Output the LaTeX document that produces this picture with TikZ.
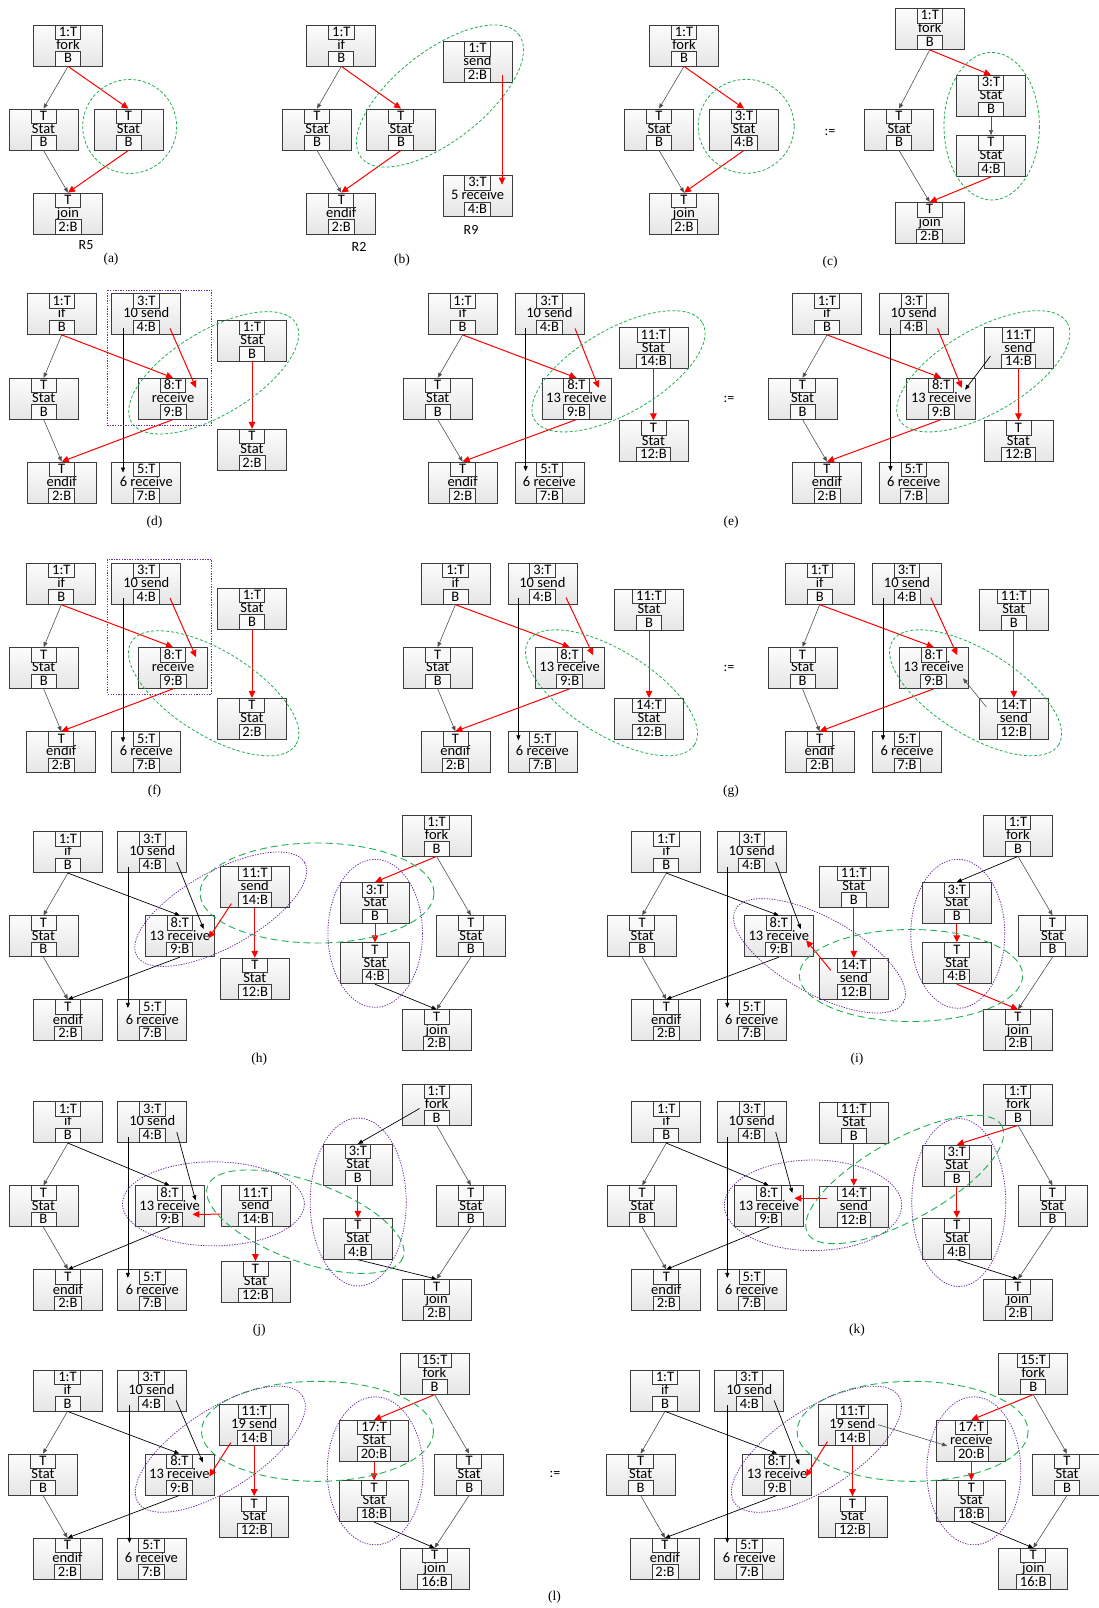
\documentclass[tikz,border=0pt]{standalone}
\usepackage{fontspec}
\setmainfont{Liberation Serif}
\newfontfamily\calfont{Carlito}
\usepackage{tikz}
\usetikzlibrary{arrows.meta,calc}
\definecolor{boxline}{RGB}{60,60,60}
\definecolor{arrgray}{RGB}{80,80,80}
\definecolor{dgreen}{RGB}{30,175,80}
\definecolor{dpurple}{RGB}{112,48,160}
\tikzset{
  blk/.style={draw=boxline,line width=0.75pt,top color=gray!2,bottom color=gray!20,
    minimum width=69pt,minimum height=41pt,inner sep=0pt,text height=10pt,text depth=2.5pt,
    font=\calfont\fontsize{14.5}{15}\selectfont},
  lbl/.style={draw=boxline,line width=0.75pt,fill=gray!4,minimum width=25pt,minimum height=14.5pt,
    inner xsep=3.5pt,inner ysep=0pt,text height=10pt,text depth=1.5pt,
    font=\calfont\fontsize{14.5}{15}\selectfont},
  garr/.style={draw=arrgray,line width=0.6pt,-{Triangle[length=5pt,width=4pt]}},
  barr/.style={draw=black,line width=0.7pt,-{Triangle[length=5pt,width=4pt]}},
  rarr/.style={draw=red,line width=1pt,-{Triangle[length=7pt,width=6.5pt]}},
  grn/.style={draw=dgreen,line width=0.8pt,dash pattern=on 3pt off 2pt},
  grnl/.style={draw=dgreen,line width=0.9pt,dash pattern=on 7pt off 4pt},
  pur/.style={draw=dpurple,line width=0.8pt,dash pattern=on 1.3pt off 1.3pt},
  capt/.style={font=\fontsize{13.5}{14}\selectfont},
  rlab/.style={font=\calfont\fontsize{14}{14}\selectfont}
}
% box with a top and a bottom port label
\newcommand{\cfg}[5]{%
  \node[blk] (#1) at (#2) {#4};
  \node[lbl,anchor=north] (#1-t) at (#1.north) {#3};
  \node[lbl,anchor=south] (#1-b) at (#1.south) {#5};}

\begin{document}
\begin{tikzpicture}[x=1pt,y=-1pt]
  \useasboundingbox (0,0) rectangle (1099,1608);

  % (a)
  \cfg{a-fk}{68,45.5}{1:T}{fork}{B}
  \cfg{a-s1}{43.5,129.5}{T}{Stat}{B}
  \cfg{a-s2}{128.5,129.5}{T}{Stat}{B}
  \cfg{a-jn}{68,213.5}{T}{join}{2:B}
  \draw[garr] (a-fk-b.south) -- (a-s1-t.north);
  \draw[rarr] (a-fk-b.south) -- (a-s2-t.north);
  \draw[garr] (a-s1-b.south) -- (a-jn-t.north);
  \draw[rarr] (a-s2-b.south) -- (a-jn-t.north);
  \draw[grn] (129.7,126.5) ellipse[x radius=47,y radius=47];
  \node[rlab] (r5) at (86,245) {R5};
  \node[capt] (capa) at (111,259) {(a)};

  % (b)
  \cfg{b-if}{341.3,45.5}{1:T}{if}{B}
  \cfg{b-s1}{317,129.5}{T}{Stat}{B}
  \cfg{b-s2}{401,129.5}{T}{Stat}{B}
  \cfg{b-ei}{341.3,213.5}{T}{endif}{2:B}
  \cfg{b-sd}{477.5,62}{1:T}{send}{2:B}
  \cfg{b-rv}{477.5,196}{3:T}{5 receive}{4:B}
  \draw[garr] (b-if-b.south) -- (b-s1-t.north);
  \draw[rarr] (b-if-b.south) -- (b-s2-t.north);
  \draw[garr] (b-s1-b.south) -- (b-ei-t.north);
  \draw[rarr] (b-s2-b.south) -- (b-ei-t.north);
  \draw[rarr] ($(b-sd.south)+(24.5,-7.5)$) -- ($(b-rv.north)+(24.5,9.5)$);
  \draw[grn,rotate around={38:(440,96)}] (440,96) ellipse[x radius=100,y radius=45];
  \node[rlab] (r2) at (359,247) {R2};
  \node[rlab] (r9) at (471,230) {R9};
  \node[capt] (capb) at (402,260) {(b)};

  % (c)
  \cfg{cl-fk}{684,45.5}{1:T}{fork}{B}
  \cfg{cl-s1}{659,129.5}{T}{Stat}{B}
  \cfg{cl-s2}{744,129.5}{3:T}{Stat}{4:B}
  \cfg{cl-jn}{684,213.5}{T}{join}{2:B}
  \draw[garr] (cl-fk-b.south) -- (cl-s1-t.north);
  \draw[rarr] (cl-fk-b.south) -- (cl-s2-t.north);
  \draw[garr] (cl-s1-b.south) -- (cl-jn-t.north);
  \draw[rarr] (cl-s2-b.south) -- (cl-jn-t.north);
  \draw[grn] (746.2,126.3) ellipse[x radius=48,y radius=47];
  \node[rlab] (defc) at (830,132) {:=};
  \cfg{cr-fk}{929.7,29}{1:T}{fork}{B}
  \cfg{cr-s1}{899,129.5}{T}{Stat}{B}
  \cfg{cr-s2}{991,96}{3:T}{Stat}{B}
  \cfg{cr-s3}{991,156}{T}{Stat}{4:B}
  \cfg{cr-jn}{929.7,223}{T}{join}{2:B}
  \draw[garr] (cr-fk-b.south) -- (cr-s1-t.north);
  \draw[rarr] (cr-fk-b.south) -- (cr-s2-t.north);
  \draw[garr] (cr-s2-b.south) -- (cr-s3-t.north);
  \draw[garr] (cr-s1-b.south) -- (cr-jn-t.north);
  \draw[rarr] (cr-s3-b.south) -- (cr-jn-t.north);
  \draw[grn] (991.7,126.2) ellipse[x radius=47.7,y radius=73.8];
  \node[capt] (capc) at (830,262) {(c)};

  % (d)
  \cfg{d-if}{61.7,314}{1:T}{if}{B}
  \cfg{d-st}{43.7,398.7}{T}{Stat}{B}
  \cfg{d-ei}{61.7,482.5}{T}{endif}{2:B}
  \cfg{d-sd}{146.3,314}{3:T}{10 send}{4:B}
  \cfg{d-r6}{146.3,482.5}{5:T}{6 receive}{7:B}
  \cfg{d-rv}{173,398.7}{8:T}{receive}{9:B}
  \cfg{d-s1}{252,340.5}{1:T}{Stat}{B}
  \cfg{d-s2}{252,449.7}{T}{Stat}{2:B}
  \draw[garr] (d-if-b.south) -- (d-st-t.north);
  \draw[rarr] (d-if-b.south) -- (d-rv-t.north);
  \draw[barr] ($(d-sd.south)+(-23.3,-6.5)$) -- ($(d-r6.north)+(-23.3,11)$);
  \draw[rarr] ($(d-sd.south)+(23.7,-6.5)$) -- ($(d-rv.north)+(23,10)$);
  \draw[rarr] (d-rv-b.south) -- (d-ei-t.north);
  \draw[garr] (d-st-b.south) -- (d-ei-t.north);
  \draw[rarr] (d-s1-b.south) -- (d-s2-t.north);
  \draw[pur] (107.7,290) rectangle (211.7,425.7);
  \draw[grn,rotate around={31:(213.7,372.8)}] (213.7,372.8) ellipse[x radius=96,y radius=42];
  \node[capt] (capd) at (154.5,522) {(d)};

  % (e)
  \cfg{el-if}{462.6,314}{1:T}{if}{B}
  \cfg{el-st}{437.7,398.7}{T}{Stat}{B}
  \cfg{el-ei}{462.6,482.5}{T}{endif}{2:B}
  \cfg{el-sd}{549.4,314}{3:T}{10 send}{4:B}
  \cfg{el-r6}{549.4,482.5}{5:T}{6 receive}{7:B}
  \cfg{el-rv}{576.4,398.7}{8:T}{13 receive}{9:B}
  \cfg{el-s1}{653.4,348.3}{11:T}{Stat}{14:B}
  \cfg{el-s2}{653.4,441.3}{T}{Stat}{12:B}
  \draw[garr] (el-if-b.south) -- (el-st-t.north);
  \draw[rarr] (el-if-b.south) -- (el-rv-t.north);
  \draw[barr] ($(el-sd.south)+(-23.8,-6.5)$) -- ($(el-r6.north)+(-23.8,9.5)$);
  \draw[rarr] ($(el-sd.south)+(25.6,-6.5)$) -- ($(el-rv.north)+(22.3,10)$);
  \draw[rarr] (el-rv-b.south) -- (el-ei-t.north);
  \draw[garr] (el-st-b.south) -- (el-ei-t.north);
  \draw[rarr] (el-s1-b.south) -- (el-s2-t.north);
  \draw[grn,rotate around={30:(618.5,371.3)}] (618.5,371.3) ellipse[x radius=97,y radius=42];
  \node[rlab] (defe) at (729,399) {:=};
  \cfg{er-if}{827,314}{1:T}{if}{B}
  \cfg{er-st}{802.5,398.7}{T}{Stat}{B}
  \cfg{er-ei}{827,482.5}{T}{endif}{2:B}
  \cfg{er-sd}{913.7,314}{3:T}{10 send}{4:B}
  \cfg{er-r6}{913.7,482.5}{5:T}{6 receive}{7:B}
  \cfg{er-rv}{941.2,398.7}{8:T}{13 receive}{9:B}
  \cfg{er-s1}{1018.4,348.3}{11:T}{send}{14:B}
  \cfg{er-s2}{1018.4,441.3}{T}{Stat}{12:B}
  \draw[garr] (er-if-b.south) -- (er-st-t.north);
  \draw[rarr] (er-if-b.south) -- (er-rv-t.north);
  \draw[barr] ($(er-sd.south)+(-23.2,-6.5)$) -- ($(er-r6.north)+(-23.2,9.5)$);
  \draw[rarr] ($(er-sd.south)+(23.8,-6.5)$) -- ($(er-rv.north)+(20.5,10)$);
  \draw[rarr] (er-rv-b.south) -- (er-ei-t.north);
  \draw[garr] (er-st-b.south) -- (er-ei-t.north);
  \draw[rarr] (er-s1-b.south) -- (er-s2-t.north);
  \draw[barr] ($(er-s1.south)+(-28,-13)$) -- ($(er-rv.east)+(-11,-9)$);
  \draw[grn,rotate around={30:(983.3,371.3)}] (983.3,371.3) ellipse[x radius=97,y radius=42];
  \node[capt] (cape) at (731,522) {(e)};

  % (f)
  \cfg{f-if}{61.3,583.8}{1:T}{if}{B}
  \cfg{f-st}{43.7,668}{T}{Stat}{B}
  \cfg{f-ei}{61.3,752.2}{T}{endif}{2:B}
  \cfg{f-sd}{146.3,583.8}{3:T}{10 send}{4:B}
  \cfg{f-r6}{146.3,752.2}{5:T}{6 receive}{7:B}
  \cfg{f-rv}{173,668}{8:T}{receive}{9:B}
  \cfg{f-s1}{252,608.8}{1:T}{Stat}{B}
  \cfg{f-s2}{252,718.8}{T}{Stat}{2:B}
  \draw[garr] (f-if-b.south) -- (f-st-t.north);
  \draw[rarr] (f-if-b.south) -- (f-rv-t.north);
  \draw[barr] ($(f-sd.south)+(-23.3,-6.5)$) -- ($(f-r6.north)+(-23.3,11)$);
  \draw[rarr] ($(f-sd.south)+(23.7,-6.5)$) -- ($(f-rv.north)+(23,10)$);
  \draw[rarr] (f-rv-b.south) -- (f-ei-t.north);
  \draw[garr] (f-st-b.south) -- (f-ei-t.north);
  \draw[rarr] (f-s1-b.south) -- (f-s2-t.north);
  \draw[pur] (107.7,559.3) rectangle (211.7,694.3);
  \draw[grn,rotate around={-32:(213.7,693.3)}] (213.7,693.3) ellipse[x radius=97,y radius=42];
  \node[capt] (capf) at (154.5,791) {(f)};

  % (g)
  \cfg{gl-if}{455.4,583.8}{1:T}{if}{B}
  \cfg{gl-st}{437.7,668}{T}{Stat}{B}
  \cfg{gl-ei}{455.4,752.2}{T}{endif}{2:B}
  \cfg{gl-sd}{542.4,583.8}{3:T}{10 send}{4:B}
  \cfg{gl-r6}{542.4,752.2}{5:T}{6 receive}{7:B}
  \cfg{gl-rv}{569.6,668}{8:T}{13 receive}{9:B}
  \cfg{gl-s1}{649,609.7}{11:T}{Stat}{B}
  \cfg{gl-s2}{649,718.8}{14:T}{Stat}{12:B}
  \draw[garr] (gl-if-b.south) -- (gl-st-t.north);
  \draw[rarr] (gl-if-b.south) -- (gl-rv-t.north);
  \draw[barr] ($(gl-sd.south)+(-24,-7)$) -- ($(gl-r6.north)+(-24,9)$);
  \draw[rarr] ($(gl-sd.south)+(23.7,-7)$) -- ($(gl-rv.north)+(23.5,8)$);
  \draw[rarr] (gl-rv-b.south) -- (gl-ei-t.north);
  \draw[garr] (gl-st-b.south) -- (gl-ei-t.north);
  \draw[rarr] (gl-s1-b.south) -- (gl-s2-t.north);
  \draw[grn,rotate around={-32:(611.5,692.8)}] (611.5,692.8) ellipse[x radius=98,y radius=42];
  \node[rlab] (defg) at (729,668.5) {:=};
  \cfg{gr-if}{819.7,583.8}{1:T}{if}{B}
  \cfg{gr-st}{802.5,668}{T}{Stat}{B}
  \cfg{gr-ei}{819.7,752.2}{T}{endif}{2:B}
  \cfg{gr-sd}{907,583.8}{3:T}{10 send}{4:B}
  \cfg{gr-r6}{907,752.2}{5:T}{6 receive}{7:B}
  \cfg{gr-rv}{933.7,668}{8:T}{13 receive}{9:B}
  \cfg{gr-s1}{1013.8,609.7}{11:T}{Stat}{B}
  \cfg{gr-s2}{1013.8,718.8}{14:T}{send}{12:B}
  \draw[garr] (gr-if-b.south) -- (gr-st-t.north);
  \draw[rarr] (gr-if-b.south) -- (gr-rv-t.north);
  \draw[barr] ($(gr-sd.south)+(-24,-7)$) -- ($(gr-r6.north)+(-24,9)$);
  \draw[rarr] ($(gr-sd.south)+(23.7,-7)$) -- ($(gr-rv.north)+(23.5,8)$);
  \draw[rarr] (gr-rv-b.south) -- (gr-ei-t.north);
  \draw[garr] (gr-st-b.south) -- (gr-ei-t.north);
  \draw[rarr] (gr-s1-b.south) -- (gr-s2-t.north);
  \draw[garr] ($(gr-s2.north)+(-27.5,9)$) -- ($(gr-rv.east)+(-5.6,10.3)$);
  \draw[grn,rotate around={-32:(975.6,692.8)}] (975.6,692.8) ellipse[x radius=98,y radius=42];
  \node[capt] (capg) at (731,791) {(g)};

  % (h)
  \cfg{h-if}{67.9,852.2}{1:T}{if}{B}
  \cfg{h-st}{43.4,936.3}{T}{Stat}{B}
  \cfg{h-ei}{67.9,1020.3}{T}{endif}{2:B}
  \cfg{h-sd}{152.3,852.2}{3:T}{10 send}{4:B}
  \cfg{h-r6}{152.3,1020.3}{5:T}{6 receive}{7:B}
  \cfg{h-rv}{179.8,936.3}{8:T}{13 receive}{9:B}
  \cfg{h-s1}{254.8,886.7}{11:T}{send}{14:B}
  \cfg{h-s2}{254.8,978.7}{T}{Stat}{12:B}
  \cfg{h-fk}{436.6,835.5}{1:T}{fork}{B}
  \cfg{h-s3}{375,903}{3:T}{Stat}{B}
  \cfg{h-s4}{375,963.3}{T}{Stat}{4:B}
  \cfg{h-s5}{470.9,936.3}{T}{Stat}{B}
  \cfg{h-jn}{436.6,1030.3}{T}{join}{2:B}
  \draw[garr] (h-if-b.south) -- (h-st-t.north);
  \draw[barr] (h-if-b.south) -- (h-rv-t.north);
  \draw[barr] ($(h-sd.south)+(24.5,-11)$) -- ($(h-rv.north)+(23.8,13.5)$);
  \draw[barr] ($(h-sd.south)+(-24.4,-6)$) -- ($(h-r6.north)+(-24.4,8.5)$);
  \draw[barr] (h-rv-b.south) -- (h-ei-t.north);
  \draw[garr] (h-st-b.south) -- (h-ei-t.north);
  \draw[rarr] (h-s1-b.south) -- (h-s2-t.north);
  \draw[rarr] ($(h-s1.south)+(-23.4,-4)$) -- ($(h-rv.east)+(-6,2)$);
  \draw[rarr] (h-fk-b.south) -- (h-s3-t.north);
  \draw[rarr] (h-s3-b.south) -- (h-s4-t.north);
  \draw[garr] (h-fk-b.south) -- (h-s5-t.north);
  \draw[garr] (h-s5-b.south) -- (h-jn-t.north);
  \draw[barr] (h-s4-b.south) -- (h-jn-t.north);
  \draw[grnl] (317,893) ellipse[x radius=117,y radius=50];
  \draw[pur,rotate around={29:(220.7,909.2)}] (220.7,909.2) ellipse[x radius=96,y radius=38];
  \draw[pur] (375.2,933.3) ellipse[x radius=47.3,y radius=74];
  \node[capt] (caph) at (259.3,1059) {(h)};

  % (i)
  \cfg{i-if}{666.3,852.2}{1:T}{if}{B}
  \cfg{i-st}{642.2,936.3}{T}{Stat}{B}
  \cfg{i-ei}{666.3,1020.3}{T}{endif}{2:B}
  \cfg{i-sd}{751.7,852.2}{3:T}{10 send}{4:B}
  \cfg{i-r6}{751.7,1020.3}{5:T}{6 receive}{7:B}
  \cfg{i-rv}{778.8,936.3}{8:T}{13 receive}{9:B}
  \cfg{i-s1}{853.8,886.7}{11:T}{Stat}{B}
  \cfg{i-s2}{853.8,978.7}{14:T}{send}{12:B}
  \cfg{i-fk}{1018,835.5}{1:T}{fork}{B}
  \cfg{i-s3}{956.8,903}{3:T}{Stat}{B}
  \cfg{i-s4}{956.8,963.3}{T}{Stat}{4:B}
  \cfg{i-s5}{1052.5,936.3}{T}{Stat}{B}
  \cfg{i-jn}{1018,1030.3}{T}{join}{2:B}
  \draw[garr] (i-if-b.south) -- (i-st-t.north);
  \draw[barr] (i-if-b.south) -- (i-rv-t.north);
  \draw[barr] ($(i-sd.south)+(24,-11)$) -- ($(i-rv.north)+(22,13.5)$);
  \draw[barr] ($(i-sd.south)+(-24.4,-6)$) -- ($(i-r6.north)+(-24.4,8.5)$);
  \draw[barr] (i-rv-b.south) -- (i-ei-t.north);
  \draw[garr] (i-st-b.south) -- (i-ei-t.north);
  \draw[rarr] (i-s1-b.south) -- (i-s2-t.north);
  \draw[rarr] ($(i-s2.north)+(-23,12.5)$) -- ($(i-rv.east)+(-7.5,4)$);
  \draw[barr] (i-fk-b.south) -- (i-s3-t.north);
  \draw[rarr] (i-s3-b.south) -- (i-s4-t.north);
  \draw[garr] (i-fk-b.south) -- (i-s5-t.north);
  \draw[garr] (i-s5-b.south) -- (i-jn-t.north);
  \draw[rarr] (i-s4-b.south) -- (i-jn-t.north);
  \draw[pur,rotate around={-29:(819.5,955.8)}] (819.5,955.8) ellipse[x radius=96,y radius=38];
  \draw[grnl] (911,975.5) ellipse[x radius=111.7,y radius=46];
  \draw[pur] (957.8,933.8) ellipse[x radius=47,y radius=74.5];
  \node[capt] (capi) at (857,1059) {(i)};

  % (j)
  \cfg{j-if}{67.9,1122.2}{1:T}{if}{B}
  \cfg{j-st}{43.4,1206.3}{T}{Stat}{B}
  \cfg{j-ei}{67.9,1290.3}{T}{endif}{2:B}
  \cfg{j-sd}{152.3,1122.2}{3:T}{10 send}{4:B}
  \cfg{j-r6}{152.3,1290.3}{5:T}{6 receive}{7:B}
  \cfg{j-rv}{169.6,1206.3}{8:T}{13 receive}{9:B}
  \cfg{j-s1}{255.4,1206.2}{11:T}{send}{14:B}
  \cfg{j-s2}{255.4,1282}{T}{Stat}{12:B}
  \cfg{j-fk}{436.6,1104.5}{1:T}{fork}{B}
  \cfg{j-s3}{357.9,1164.8}{3:T}{Stat}{B}
  \cfg{j-s4}{357.9,1238.8}{T}{Stat}{4:B}
  \cfg{j-s5}{470.9,1206.3}{T}{Stat}{B}
  \cfg{j-jn}{436.6,1300}{T}{join}{2:B}
  \draw[garr] (j-if-b.south) -- (j-st-t.north);
  \draw[barr] (j-if-b.south) -- (j-rv-t.north);
  \draw[barr] ($(j-sd.south)+(24.5,-11)$) -- ($(j-rv.north)+(26,15)$);
  \draw[barr] ($(j-sd.south)+(-24.4,-6)$) -- ($(j-r6.north)+(-24.4,8.5)$);
  \draw[barr] (j-rv-b.south) -- (j-ei-t.north);
  \draw[garr] (j-st-b.south) -- (j-ei-t.north);
  \draw[rarr] ($(j-s1.west)+(0,8)$) -- ($(j-rv.east)+(-12,8)$);
  \draw[rarr] (j-s1-b.south) -- (j-s2-t.north);
  \draw[barr] ($(j-fk.center)+(-17,4)$) -- (j-s3-t.north);
  \draw[rarr] (j-s3-b.south) -- (j-s4-t.north);
  \draw[garr] (j-fk-b.south) -- (j-s5-t.north);
  \draw[garr] (j-s5-b.south) -- (j-jn-t.north);
  \draw[barr] (j-s4-b.south) -- (j-jn-t.north);
  \draw[pur] (213.4,1203.8) ellipse[x radius=91,y radius=42];
  \draw[grnl,rotate around={-20:(305.3,1221.7)}] (305.3,1221.7) ellipse[x radius=104,y radius=40];
  \draw[pur] (358.2,1202) ellipse[x radius=48,y radius=84];
  \node[capt] (capj) at (259.3,1330) {(j)};

  % (k)
  \cfg{k-if}{666.3,1122.2}{1:T}{if}{B}
  \cfg{k-st}{642.2,1206.3}{T}{Stat}{B}
  \cfg{k-ei}{666.3,1290.3}{T}{endif}{2:B}
  \cfg{k-sd}{751.7,1122.2}{3:T}{10 send}{4:B}
  \cfg{k-r6}{751.7,1290.3}{5:T}{6 receive}{7:B}
  \cfg{k-rv}{768.8,1206.3}{8:T}{13 receive}{9:B}
  \cfg{k-s1}{853.8,1122.5}{11:T}{Stat}{B}
  \cfg{k-s2}{853.8,1206.7}{14:T}{send}{12:B}
  \cfg{k-fk}{1018,1104.5}{1:T}{fork}{B}
  \cfg{k-s3}{956.8,1165.5}{3:T}{Stat}{B}
  \cfg{k-s4}{956.8,1238.8}{T}{Stat}{4:B}
  \cfg{k-s5}{1052.5,1206.3}{T}{Stat}{B}
  \cfg{k-jn}{1018,1300}{T}{join}{2:B}
  \draw[garr] (k-if-b.south) -- (k-st-t.north);
  \draw[barr] (k-if-b.south) -- (k-rv-t.north);
  \draw[barr] ($(k-sd.south)+(24,-11)$) -- ($(k-rv.north)+(23.5,7.5)$);
  \draw[barr] ($(k-sd.south)+(-24.4,-6)$) -- ($(k-r6.north)+(-24.4,8.5)$);
  \draw[barr] (k-rv-b.south) -- (k-ei-t.north);
  \draw[garr] (k-st-b.south) -- (k-ei-t.north);
  \draw[rarr] (k-s1-b.south) -- (k-s2-t.north);
  \draw[rarr] ($(k-s2.west)+(8,-8.4)$) -- ($(k-rv.east)+(-9.3,-8)$);
  \draw[rarr] (k-fk-b.south) -- (k-s3-t.north);
  \draw[rarr] (k-s3-b.south) -- (k-s4-t.north);
  \draw[garr] (k-fk-b.south) -- (k-s5-t.north);
  \draw[garr] (k-s5-b.south) -- (k-jn-t.north);
  \draw[barr] (k-s4-b.south) -- (k-jn-t.north);
  \draw[pur] (813,1205.3) ellipse[x radius=88.7,y radius=45.3];
  \draw[grnl,rotate around={29:(904.7,1179.5)}] (904.7,1179.5) ellipse[x radius=111,y radius=40];
  \draw[pur] (958.8,1202.5) ellipse[x radius=47,y radius=84];
  \node[capt] (capk) at (857,1330) {(k)};

  % (l)
  \cfg{ll-if}{67.5,1390.5}{1:T}{if}{B}
  \cfg{ll-st}{43,1474.5}{T}{Stat}{B}
  \cfg{ll-ei}{67.5,1558.8}{T}{endif}{2:B}
  \cfg{ll-sd}{151.4,1390.5}{3:T}{10 send}{4:B}
  \cfg{ll-r6}{151.4,1558.8}{5:T}{6 receive}{7:B}
  \cfg{ll-rv}{179.4,1474.5}{8:T}{13 receive}{9:B}
  \cfg{ll-s1}{254.2,1424.7}{11:T}{19 send}{14:B}
  \cfg{ll-s2}{254.2,1517}{T}{Stat}{12:B}
  \cfg{ll-fk}{434.6,1373.7}{15:T}{fork}{B}
  \cfg{ll-s3}{374.1,1440.8}{17:T}{Stat}{20:B}
  \cfg{ll-s4}{374.1,1501.2}{T}{Stat}{18:B}
  \cfg{ll-s5}{469.2,1474.5}{T}{Stat}{B}
  \cfg{ll-jn}{434.6,1568.8}{T}{join}{16:B}
  \draw[garr] (ll-if-b.south) -- (ll-st-t.north);
  \draw[barr] (ll-if-b.south) -- (ll-rv-t.north);
  \draw[barr] ($(ll-sd.south)+(24.8,-11)$) -- ($(ll-rv.north)+(23.4,8.7)$);
  \draw[barr] ($(ll-sd.south)+(-22,-6)$) -- ($(ll-r6.north)+(-22,5)$);
  \draw[barr] (ll-rv-b.south) -- (ll-ei-t.north);
  \draw[garr] (ll-st-b.south) -- (ll-ei-t.north);
  \draw[rarr] (ll-s1-b.south) -- (ll-s2-t.north);
  \draw[rarr] ($(ll-s1.south)+(-23.4,-3)$) -- ($(ll-rv.east)+(-5,2)$);
  \draw[rarr] (ll-fk-b.south) -- (ll-s3-t.north);
  \draw[rarr] (ll-s3-b.south) -- (ll-s4-t.north);
  \draw[garr] (ll-fk-b.south) -- (ll-s5-t.north);
  \draw[garr] (ll-s5-b.south) -- (ll-jn-t.north);
  \draw[barr] (ll-s4-b.south) -- (ll-jn-t.north);
  \draw[grnl] (317.5,1431.3) ellipse[x radius=116,y radius=50];
  \draw[pur,rotate around={33:(220.3,1449.2)}] (220.3,1449.2) ellipse[x radius=98,y radius=40];
  \draw[pur] (375.2,1470.8) ellipse[x radius=48,y radius=74];
  \node[rlab] (defl) at (555,1474) {:=};
  \cfg{lr-if}{665,1390.5}{1:T}{if}{B}
  \cfg{lr-st}{640.6,1474.5}{T}{Stat}{B}
  \cfg{lr-ei}{665,1558.8}{T}{endif}{2:B}
  \cfg{lr-sd}{749.3,1390.5}{3:T}{10 send}{4:B}
  \cfg{lr-r6}{749.3,1558.8}{5:T}{6 receive}{7:B}
  \cfg{lr-rv}{777,1474.5}{8:T}{13 receive}{9:B}
  \cfg{lr-s1}{852.4,1424.7}{11:T}{19 send}{14:B}
  \cfg{lr-s2}{852.4,1517}{T}{Stat}{12:B}
  \cfg{lr-fk}{1033.2,1373.7}{15:T}{fork}{B}
  \cfg{lr-s3}{971.3,1440.8}{17:T}{receive}{20:B}
  \cfg{lr-s4}{971.3,1501.2}{T}{Stat}{18:B}
  \cfg{lr-s5}{1067,1474.5}{T}{Stat}{B}
  \cfg{lr-jn}{1033.2,1568.8}{T}{join}{16:B}
  \draw[garr] (lr-if-b.south) -- (lr-st-t.north);
  \draw[barr] (lr-if-b.south) -- (lr-rv-t.north);
  \draw[barr] ($(lr-sd.south)+(24.8,-11)$) -- ($(lr-rv.north)+(22.3,11)$);
  \draw[barr] ($(lr-sd.south)+(-22,-6)$) -- ($(lr-r6.north)+(-22,5)$);
  \draw[barr] (lr-rv-b.south) -- (lr-ei-t.north);
  \draw[garr] (lr-st-b.south) -- (lr-ei-t.north);
  \draw[rarr] (lr-s1-b.south) -- (lr-s2-t.north);
  \draw[rarr] ($(lr-s1.south)+(-25,-4)$) -- ($(lr-rv.east)+(-6,2)$);
  \draw[garr] ($(lr-s1.east)+(-9,0)$) -- ($(lr-s3.west)+(10.6,5)$);
  \draw[rarr] (lr-fk-b.south) -- (lr-s3-t.north);
  \draw[rarr] (lr-s3-b.south) -- (lr-s4-t.north);
  \draw[garr] (lr-fk-b.south) -- (lr-s5-t.north);
  \draw[garr] (lr-s5-b.south) -- (lr-jn-t.north);
  \draw[barr] (lr-s4-b.south) -- (lr-jn-t.north);
  \draw[grnl] (912.6,1431.3) ellipse[x radius=115.5,y radius=50];
  \draw[pur,rotate around={33:(816.4,1449.2)}] (816.4,1449.2) ellipse[x radius=98,y radius=40];
  \draw[pur] (973.8,1470.8) ellipse[x radius=47,y radius=74];
  \node[capt] (capl) at (554.6,1597) {(l)};
\end{tikzpicture}
\end{document}
